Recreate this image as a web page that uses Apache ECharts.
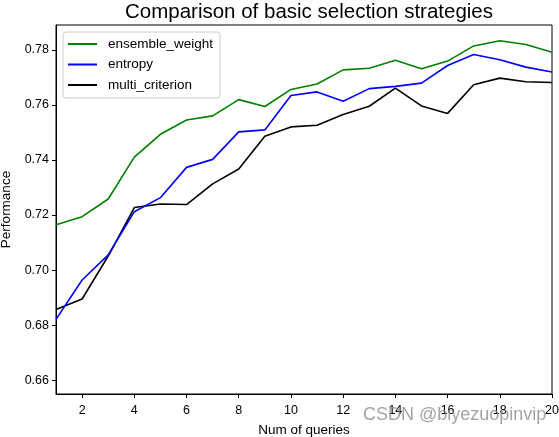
<!DOCTYPE html>
<html>
<head>
<meta charset="utf-8">
<script src="https://cdn.jsdelivr.net/npm/echarts@6/dist/echarts.min.js"></script>
<style>
html,body{margin:0;padding:0;background:#fff;}
#chart{width:559px;height:437px;}
</style>
</head>
<body>
<div id="chart"></div>
<script>
const queries = [1,2,3,4,5,6,7,8,9,10,11,12,13,14,15,16,17,18,19,20];
const ensembleWeight = [0.7165,0.7194,0.7258,0.7410,0.7493,0.7545,0.7560,0.7619,0.7594,0.7656,0.7676,0.7727,0.7733,0.7762,0.7731,0.7759,0.7814,0.7833,0.7819,0.7791];
const entropy = [0.6821,0.6964,0.7055,0.7212,0.7263,0.7373,0.7402,0.7502,0.7509,0.7634,0.7647,0.7613,0.7659,0.7667,0.7679,0.7743,0.7783,0.7764,0.7737,0.7719];
const multiCriterion = [0.6857,0.6895,0.7051,0.7227,0.7240,0.7238,0.7313,0.7367,0.7486,0.7520,0.7526,0.7565,0.7595,0.7661,0.7596,0.7569,0.7673,0.7697,0.7684,0.7681];
const xTicks = [2,4,6,8,10,12,14,16,18,20];
const yTicks = [0.66,0.68,0.70,0.72,0.74,0.76,0.78];
const seriesNames = ['ensemble_weight','entropy','multi_criterion'];
const seriesColors = ['#008000','#0000ff','#000000'];

const FONT = 'Liberation Sans';
const chart = echarts.init(document.getElementById('chart'), null, {renderer:'canvas'});
const pairs = arr => queries.map((q,i)=>[q, arr[i]]);
const datasets = [ensembleWeight, entropy, multiCriterion];

chart.setOption({
  animation:false,
  backgroundColor:'#fff',
  title:{
    text:'Comparison of basic selection strategies',
    left:304, top:-3, textAlign:'center',
    textStyle:{fontFamily:FONT, fontSize:20.5, fontWeight:'normal', color:'#000'}
  },
  legend:{
    orient:'vertical', left:63, top:32,
    padding:[4,7,5,5],
    itemGap:4.5, itemWidth:29, itemHeight:2,
    backgroundColor:'rgba(255,255,255,0.8)',
    borderColor:'#cccccc', borderWidth:1, borderRadius:3,
    textStyle:{fontFamily:FONT, fontSize:13.5, color:'#000', lineHeight:16, padding:[0,0,0,6]},
    data:seriesNames.map((n,i)=>({name:n, icon:'rect', itemStyle:{color:seriesColors[i]}}))
  },
  grid:{left:56, right:7, top:25, bottom:43, containLabel:false, outerBoundsMode:'none',
        show:true, borderColor:'#000', borderWidth:1, backgroundColor:'transparent'},
  xAxis:{
    type:'value', min:1, max:20,
    name:'Num of queries', nameLocation:'middle', nameGap:29,
    nameTextStyle:{fontFamily:FONT, fontSize:13.5, color:'#000'},
    axisLine:{show:true, onZero:false, lineStyle:{color:'#000', width:1}},
    axisTick:{show:true, length:4, customValues:xTicks, lineStyle:{color:'#000'}},
    axisLabel:{customValues:xTicks, fontFamily:FONT, fontSize:12.5, color:'#000', margin:10, showMinLabel:true, showMaxLabel:true},
    splitLine:{show:false}
  },
  yAxis:{
    type:'value', min:0.655, max:0.789,
    name:'Performance', nameLocation:'middle', nameGap:40, nameRotate:90,
    nameTextStyle:{fontFamily:FONT, fontSize:13.5, color:'#000'},
    axisLine:{show:true, onZero:false, lineStyle:{color:'#000', width:1}},
    axisTick:{show:true, length:4, customValues:yTicks, lineStyle:{color:'#000'}},
    axisLabel:{customValues:yTicks, fontFamily:FONT, fontSize:12.5, color:'#000', margin:7, formatter:v=>v.toFixed(2)},
    splitLine:{show:false}
  },
  graphic:[{
    type:'text', left:363, top:406, z:100,
    style:{text:'CSDN @biyezuopinvip', fontFamily:'Liberation Sans', fontSize:18, fill:'rgba(140,140,140,0.8)'}
  }],
  series:seriesNames.map((n,i)=>({
    name:n, type:'line', data:pairs(datasets[i]),
    showSymbol:false, symbol:'none',
    lineStyle:{color:seriesColors[i], width:1.6},
    itemStyle:{color:seriesColors[i]},
    z:3-i
  }))
});
</script>
</body>
</html>
